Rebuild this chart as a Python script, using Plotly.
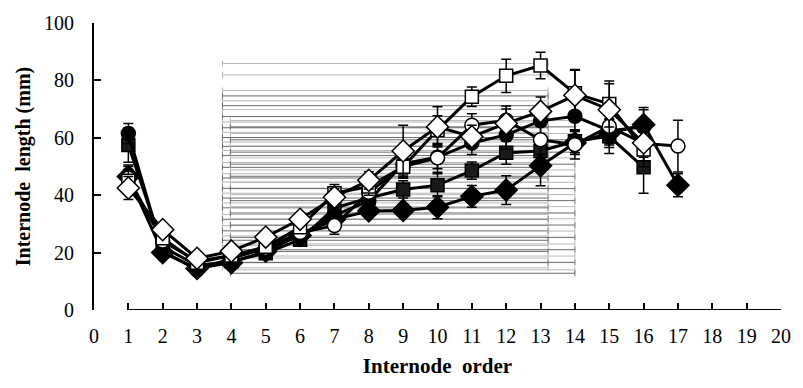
import plotly.graph_objects as go

# ---------------- data ----------------
x_full = list(range(1, 18))

fc_y = [61.5, 20.5, 14.0, 18.0, 21.5, 26.0, 33.0, 38.0, 51.0, 53.2, 58.2, 61.0, 65.9, 67.5, 62.5, 63.8]
fc_e = [3.5, 2, 2, 2, 2, 2, 3, 3, 4, 4, 4, 5, 5, 5, 5, 6]

fs_y = [57.5, 22.0, 15.5, 17.0, 19.8, 24.5, 35.5, 39.0, 42.0, 43.5, 48.6, 54.8, 55.4, 58.8, 60.5, 49.7]
fs_e = [6, 2, 2, 2, 2, 2, 3, 3, 3, 4, 3, 4, 4, 4, 6, 9]

fd_y = [46.5, 20.0, 14.5, 16.5, 20.5, 26.0, 31.6, 34.5, 34.7, 35.8, 39.6, 41.8, 50.3, 58.2, 61.6, 64.6, 43.5]
fd_e = [4, 2, 2, 2, 2, 2, 2, 2, 2, 4, 3.8, 5, 7, 4, 5, 6, 4]

os_y = [45.0, 25.0, 16.5, 19.0, 22.0, 28.8, 40.7, 43.0, 49.9, 62.7, 74.3, 81.6, 85.2, 75.5, 71.8, 55.9]
os_e = [4, 2, 2, 2, 2, 2, 3, 3, 4, 5, 3.4, 5.8, 4.6, 8, 8, 6]

oc_y = [46.0, 24.0, 17.0, 19.0, 21.5, 27.0, 29.4, 41.0, 50.0, 53.0, 64.4, 66.1, 59.3, 57.6, 64.0, 58.0, 57.1]
oc_e = [4, 2, 2, 2, 2, 2, 3, 3, 4, 5, 4, 5, 5, 5, 6, 6, 9]

od_y = [42.5, 28.0, 18.0, 20.5, 25.4, 31.6, 39.3, 45.2, 55.4, 63.8, 60.4, 65.0, 69.2, 74.8, 69.8, 58.2]
od_e = [4, 2, 2, 2, 2, 2, 3, 3, 9, 7, 4, 5, 5, 9, 9, 5]

# stray horizontal (x-direction) error bars seen in the original
grey_a_center, grey_a_half = 8.48, 4.74
grey_a_light = [85.9, 81.9, 76.5, 72.9, 69.8, 65.5, 61.9, 58.5, 55.6, 51.4, 47.5, 44.6,
                40.7, 37.3, 33.3, 29.4, 25.8, 22.5, 18.1, 14.7]
grey_a_dark = [74.6, 71.2, 67.4, 63.5, 60.1, 57.0, 53.8, 49.7, 46.0, 42.4, 39.0, 35.6,
               31.6, 27.6, 24.3, 20.4, 16.5]
grey_b_center, grey_b_half = 8.985, 5.015
grey_b_light = [66.0, 61.5, 57.2, 53.0, 48.8, 44.5, 40.2, 36.0, 31.8, 27.5, 23.0, 18.8, 14.0]
grey_b_dark = [63.8, 59.3, 55.0, 50.8, 46.6, 42.3, 38.1, 33.8, 29.6, 25.3, 21.0, 16.6, 12.8]

x_ticks = list(range(0, 21))
y_ticks = [0, 20, 40, 60, 80, 100]

FONT = "Liberation Serif, Times New Roman, serif"

fig = go.Figure()

def grey_bars(center, half, ys, color):
    fig.add_trace(go.Scatter(
        x=[center] * len(ys), y=ys, mode="markers",
        marker=dict(size=1, color="rgba(0,0,0,0)"),
        error_x=dict(type="data", array=[half] * len(ys), visible=True,
                     color=color, thickness=1, width=3),
        showlegend=False, hoverinfo="skip"))

grey_bars(grey_a_center, grey_a_half, grey_a_light, "#b8b8b8")
grey_bars(grey_a_center, grey_a_half, grey_a_dark, "#6a6a6a")
grey_bars(grey_b_center, grey_b_half, grey_b_light, "#b8b8b8")
grey_bars(grey_b_center, grey_b_half, grey_b_dark, "#6a6a6a")

def series(ys, errs, symbol, fill, size):
    n = len(ys)
    fig.add_trace(go.Scatter(
        x=x_full[:n], y=ys, mode="lines+markers",
        line=dict(color="black", width=3),
        marker=dict(symbol=symbol, size=size, color=fill,
                    line=dict(color="black", width=1.5)),
        error_y=dict(type="data", array=errs, visible=True,
                     color="black", thickness=1.5, width=5),
        showlegend=False))

series(fs_y, fs_e, "square", "#1a1a1a", 13)
series(fd_y, fd_e, "diamond", "black", 17)
series(fc_y, fc_e, "circle", "black", 14)
series(oc_y, oc_e, "circle", "white", 14)
series(os_y, os_e, "square", "white", 13)
series(od_y, od_e, "diamond", "white", 17)

# x-axis line (starts at 1 in the original)
fig.add_shape(type="line", xref="x", yref="y", x0=1, x1=20, y0=0, y1=0,
              line=dict(color="black", width=2))

fig.update_layout(
    width=803, height=388,
    margin=dict(l=94, r=13, t=15, b=78),
    paper_bgcolor="white", plot_bgcolor="white",
    font=dict(family=FONT, color="black", size=19),
    xaxis=dict(range=[0, 20], tickvals=x_ticks, ticktext=[str(v) for v in x_ticks],
               ticks="inside", ticklen=7, tickwidth=1.5, tickcolor="black",
               showline=False, showgrid=False, zeroline=False,
               tickfont=dict(family=FONT, size=20), ticklabelstandoff=12,
               title=dict(text="<b>Internode\u00a0 order</b>",
                          font=dict(family=FONT, size=21), standoff=12)),
    yaxis=dict(range=[0, 100], tickvals=y_ticks,
               ticks="inside", ticklen=7, tickwidth=1.5, tickcolor="black",
               showline=True, linewidth=2, linecolor="black",
               showgrid=False, zeroline=False,
               tickfont=dict(family=FONT, size=20), ticklabelstandoff=14,
               title=dict(text="<b>Internode\u00a0 length (mm)</b>",
                          font=dict(family=FONT, size=20), standoff=8)),
)

fig.write_html("out.html")
